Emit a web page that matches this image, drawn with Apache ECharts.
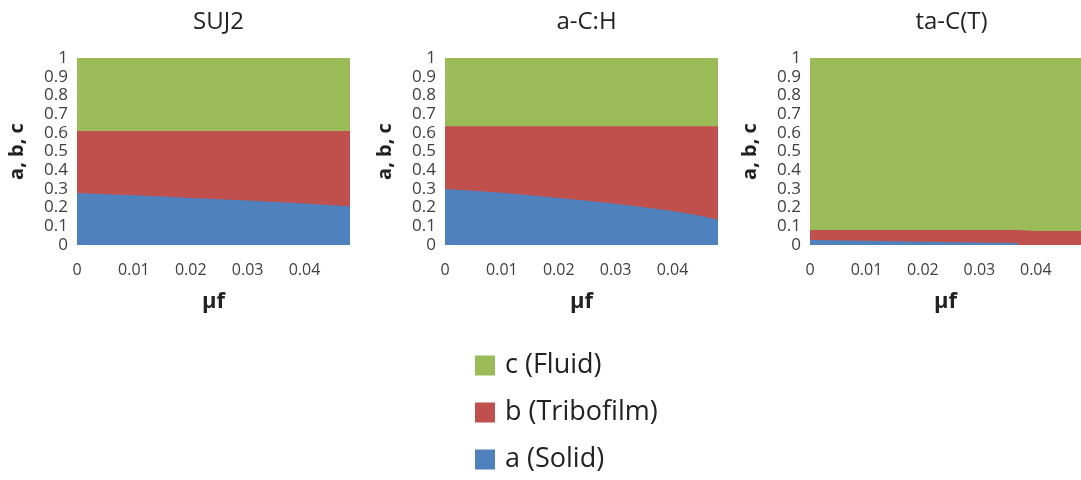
<!DOCTYPE html>
<html>
<head>
<meta charset="utf-8">
<script src="https://cdn.jsdelivr.net/npm/echarts@6/dist/echarts.min.js"></script>
<style>
  html, body { margin: 0; padding: 0; background: #fff; }
  #chart { width: 1081px; height: 480px; }
</style>
</head>
<body>
<div id="chart"></div>
<script>
// Friction coefficient samples (x axis) for each material panel
const muF = [0, 0.005, 0.01, 0.015, 0.02, 0.025, 0.03, 0.035, 0.04, 0.045, 0.048];
const muFTaC = [0, 0.01, 0.02, 0.03, 0.0368, 0.0369, 0.04, 0.048];

// SUJ2 fractions
const sujSolid = [0.278, 0.272, 0.266, 0.259, 0.252, 0.245, 0.238, 0.230, 0.222, 0.213, 0.207];
const sujTribofilm = [0.332, 0.338, 0.344, 0.351, 0.358, 0.365, 0.372, 0.380, 0.388, 0.397, 0.403];
const sujFluid = [0.39, 0.39, 0.39, 0.39, 0.39, 0.39, 0.39, 0.39, 0.39, 0.39, 0.39];

// a-C:H fractions
const achSolid = [0.300, 0.290, 0.279, 0.266, 0.252, 0.237, 0.220, 0.202, 0.182, 0.157, 0.135];
const achTribofilm = [0.335, 0.345, 0.356, 0.369, 0.383, 0.398, 0.415, 0.433, 0.453, 0.478, 0.500];
const achFluid = [0.365, 0.365, 0.365, 0.365, 0.365, 0.365, 0.365, 0.365, 0.365, 0.365, 0.365];

// ta-C(T) fractions
const tacSolid = [0.027, 0.023, 0.018, 0.014, 0.011, 0, 0, 0];
const tacTribofilm = [0.053, 0.057, 0.062, 0.066, 0.069, 0.075, 0.075, 0.075];
const tacFluid = [0.92, 0.92, 0.92, 0.92, 0.92, 0.925, 0.925, 0.925];

const panelTitles = ['SUJ2', 'a-C:H', 'ta-C(T)'];
const seriesNames = ['a (Solid)', 'b (Tribofilm)', 'c (Fluid)'];
const legendOrder = ['c (Fluid)', 'b (Tribofilm)', 'a (Solid)'];
const xTitle = 'μf';
const yTitle = 'a, b, c';

const colors = ['#4F81BD', '#C0504D', '#9BBB59'];
const FONT = '"Open Sans", Lato, sans-serif';

const panels = [
  { x: muF, sets: [sujSolid, sujTribofilm, sujFluid], left: 77 },
  { x: muF, sets: [achSolid, achTribofilm, achFluid], left: 445 },
  { x: muFTaC, sets: [tacSolid, tacTribofilm, tacFluid], left: 810 }
];

const PLOT_W = 273, PLOT_TOP = 58, PLOT_H = 187;

const grids = [], xAxes = [], yAxes = [], titles = [], series = [];
panels.forEach((p, i) => {
  grids.push({ left: p.left, top: PLOT_TOP, width: PLOT_W, height: PLOT_H, containLabel: false });
  titles.push({
    text: panelTitles[i],
    left: p.left + PLOT_W / 2,
    top: 5,
    textAlign: 'center',
    textStyle: { fontFamily: FONT, fontSize: 24, fontWeight: 'normal', color: '#222' }
  });
  xAxes.push({
    type: 'value', gridIndex: i, min: 0, max: 0.048, interval: 0.01,
    axisLine: { show: false }, axisTick: { show: false }, splitLine: { show: false },
    axisLabel: { showMaxLabel: false, margin: 17, fontSize: 16, color: '#404040', fontFamily: FONT },
    name: xTitle, nameLocation: 'middle', nameGap: 46,
    nameTextStyle: { fontFamily: FONT, fontSize: 22, fontWeight: 'bold', color: '#222' }
  });
  yAxes.push({
    type: 'value', gridIndex: i, min: 0, max: 1, interval: 0.1,
    axisLine: { show: false }, axisTick: { show: false }, splitLine: { show: false },
    axisLabel: { margin: 9, fontSize: 17, color: '#404040', fontFamily: FONT,
      formatter: v => String(Math.round(v * 10) / 10) },
    name: yTitle, nameLocation: 'middle', nameRotate: 90, nameGap: 50,
    nameTextStyle: { fontFamily: FONT, fontSize: 20, fontWeight: 'bold', color: '#222' }
  });

  // Cumulative tops of each band (a, a+b, a+b+c); the top band is drawn first
  // so the lower bands paint over it.
  const tops = p.sets.map((_, k) =>
    p.x.map((x, j) => {
      let s = 0;
      for (let m = 0; m <= k; m++) s += p.sets[m][j];
      return [x, s];
    })
  );
  for (let k = p.sets.length - 1; k >= 0; k--) {
    series.push({
      name: seriesNames[k],
      type: 'line',
      xAxisIndex: i, yAxisIndex: i,
      symbol: 'none',
      silent: true,
      lineStyle: { width: 0 },
      areaStyle: { color: colors[k], opacity: 1 },
      itemStyle: { color: colors[k] },
      data: tops[k]
    });
  }
});

const chart = echarts.init(document.getElementById('chart'), null, { renderer: 'canvas' });
chart.setOption({
  animation: false,
  backgroundColor: '#fff',
  title: titles,
  grid: grids,
  xAxis: xAxes,
  yAxis: yAxes,
  legend: {
    data: legendOrder.map(n => ({ name: n, icon: 'rect' })),
    orient: 'vertical',
    left: 470, top: 347,
    height: 133,
    itemWidth: 20, itemHeight: 20, itemGap: 20,
    textStyle: { fontFamily: FONT, fontSize: 27, color: '#222', padding: [0, 0, 0, 5] },
    selectedMode: false
  },
  series: series
});
</script>
</body>
</html>
